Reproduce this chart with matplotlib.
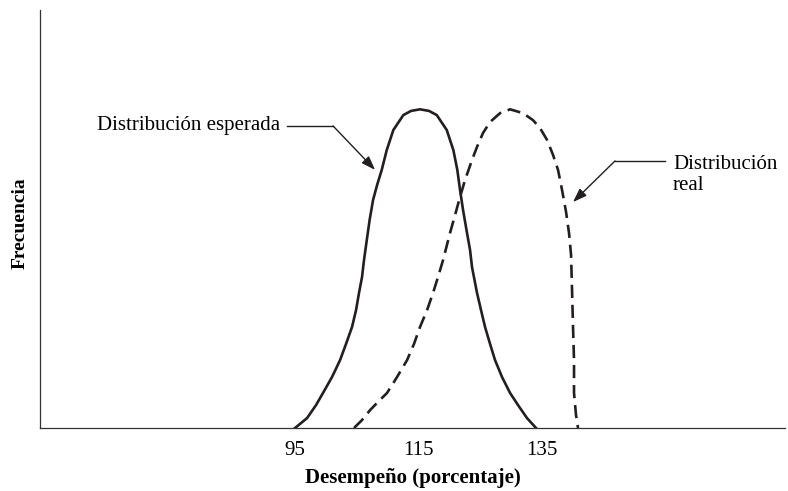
import matplotlib.pyplot as plt

plt.rcParams['font.family'] = ['Liberation Serif', 'DejaVu Serif']

# Distribución esperada (desempeño %, frecuencia relativa)
esperada_x = [95.00, 96.94, 98.40, 99.53, 100.99, 102.29, 103.26, 104.23, 104.88, 105.36,
              105.85, 106.17, 106.62, 107.08, 107.63, 108.28, 109.04, 109.85, 110.92, 112.54,
              113.79, 115.24, 116.70, 117.95, 119.57, 120.64, 121.28, 121.72, 122.21, 122.85,
              123.34, 123.66, 124.47, 125.12, 125.77, 126.58, 127.39, 128.52, 129.82, 131.11,
              132.57, 134.03]
esperada_y = [0.0, 0.031, 0.072, 0.110, 0.160, 0.213, 0.264, 0.317, 0.370, 0.424,
              0.474, 0.527, 0.590, 0.653, 0.715, 0.762, 0.810, 0.872, 0.935, 0.982,
              0.995, 1.0, 0.995, 0.982, 0.935, 0.872, 0.810, 0.747, 0.684, 0.612,
              0.559, 0.505, 0.424, 0.370, 0.317, 0.264, 0.213, 0.160, 0.110, 0.072,
              0.031, 0.0]

# Distribución real
real_x = [104.55, 105.85, 107.15, 108.44, 109.90, 111.52, 113.14, 114.27, 115.24, 116.38,
          117.35, 118.16, 118.97, 120.10, 120.91, 121.72, 122.53, 123.66, 124.47, 125.45,
          126.58, 128.20, 129.82, 131.92, 133.54, 134.68, 135.81, 136.78, 137.59, 138.24,
          138.89, 139.37, 139.70, 139.86, 140.02, 140.18, 140.18, 140.50, 140.83]
real_y = [0.0, 0.025, 0.056, 0.082, 0.110, 0.160, 0.213, 0.264, 0.317, 0.370,
          0.424, 0.474, 0.527, 0.612, 0.668, 0.725, 0.778, 0.841, 0.882, 0.926,
          0.960, 0.988, 1.0, 0.988, 0.966, 0.941, 0.904, 0.857, 0.810, 0.747,
          0.678, 0.612, 0.543, 0.433, 0.317, 0.213, 0.110, 0.041, 0.0]

ticks = [95, 115, 135]

fig = plt.figure(figsize=(7.88, 4.91), dpi=100)
ax = fig.add_axes([0.0508, 0.1283, 0.9454, 0.8513])

color = '#231f20'
ax.plot(esperada_x, esperada_y, color=color, lw=1.9, solid_joinstyle='round')
ax.plot(real_x, real_y, color=color, lw=1.9, linestyle=(0, (5, 2.6)))

ax.set_xlim(53.70, 174.35)
ax.set_ylim(0, 1.3116)

ax.spines['top'].set_visible(False)
ax.spines['right'].set_visible(False)
for lado in ['left', 'bottom']:
    ax.spines[lado].set_color('#333333')
    ax.spines[lado].set_linewidth(0.9)

ax.set_yticks([])
ax.set_xticks(ticks)
ax.set_xticklabels([str(t) for t in ticks], fontsize=15)
ax.tick_params(axis='x', length=0, pad=9)

ax.set_xlabel('Desempeño (porcentaje)', fontsize=15, fontweight='bold', labelpad=6)
ax.set_ylabel('Frecuencia', fontsize=14, fontweight='bold')
ax.yaxis.set_label_coords(-0.015, 0.49)

# Anotaciones: texto, tramo horizontal y flecha diagonal
flecha = dict(arrowstyle='-|>,head_length=0.42,head_width=0.15', color=color, lw=1.0,
              shrinkA=0, shrinkB=0, mutation_scale=20)

ax.text(92.57, 0.948, 'Distribución esperada', fontsize=15, ha='right', va='center')
ax.plot([93.70, 101.15], [0.948, 0.948], color=color, lw=1.0)
ax.annotate('', xy=(107.96, 0.810), xytext=(101.15, 0.948), arrowprops=flecha)

ax.text(156.21, 0.795, 'Distribución\nreal', fontsize=15, ha='left', va='center',
        linespacing=1.15)
ax.plot([154.92, 146.82], [0.838, 0.838], color=color, lw=1.0)
ax.annotate('', xy=(140.02, 0.709), xytext=(146.82, 0.838), arrowprops=flecha)

fig.savefig('out.png', dpi=100)
